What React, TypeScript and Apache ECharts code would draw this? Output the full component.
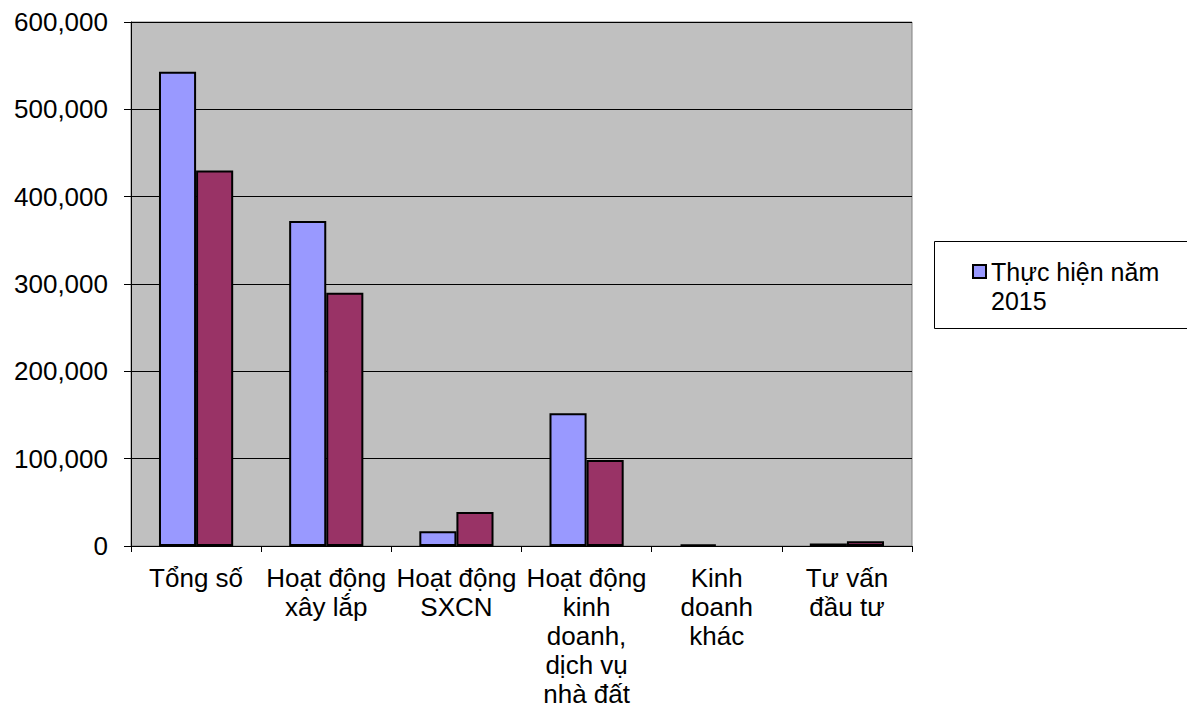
import React, { useEffect, useRef } from "react";
import * as echarts from "echarts";

const categories = [
  "Tổng số",
  "Hoạt động\nxây lắp",
  "Hoạt động\nSXCN",
  "Hoạt động\nkinh\ndoanh,\ndịch vụ\nnhà đất",
  "Kinh\ndoanh\nkhác",
  "Tư vấn\nđầu tư",
];
const series1Name = "Thực hiện năm 2015";
const series1 = [543000, 372000, 17000, 152000, 2000, 3000];
const series2Name = "Series 2";
const series2 = [430000, 290000, 39000, 98500, null, 5500];
const yTicks = { min: 0, max: 600000, interval: 100000 };

const FONT = "'Liberation Sans', Arial, sans-serif";
const FS = 26;

export default function App() {
  const ref = useRef<HTMLDivElement>(null);
  useEffect(() => {
    if (!ref.current) return;
    const chart = echarts.init(ref.current, null, { renderer: "svg" });
    chart.setOption({
      animation: false,
      backgroundColor: "#ffffff",
      textStyle: { fontFamily: FONT },
      graphic: [
        {
          type: "rect",
          left: 934,
          top: 241,
          shape: { width: 270, height: 87 },
          style: { fill: "#ffffff", stroke: "#000000", lineWidth: 1 },
          z: 0,
        },
      ],
      legend: {
        data: [series1Name],
        left: 972,
        top: 228,
        padding: 0,
        itemWidth: 13,
        itemHeight: 13,
        icon: "rect",
        z: 10,
        itemStyle: { borderColor: "#000000", borderWidth: 2 },
        formatter: () => "\nThực hiện năm\n2015",
        textStyle: {
          fontFamily: FONT,
          fontSize: 25,
          color: "#000000",
          lineHeight: 29,
        },
      },
      grid: {
        left: 131,
        right: 275,
        top: 22,
        bottom: 170,
        show: true,
        backgroundColor: "#C0C0C0",
        borderColor: "#808080",
        borderWidth: 1,
      },
      xAxis: {
        type: "category",
        data: categories,
        axisLine: { lineStyle: { color: "#000000", width: 1 } },
        axisTick: { show: true, length: 6, alignWithLabel: false, lineStyle: { color: "#000000" } },
        axisLabel: {
          interval: 0,
          color: "#000000",
          fontFamily: FONT,
          fontSize: FS,
          lineHeight: 29,
          margin: 17,
          align: "center",
        },
      },
      yAxis: {
        type: "value",
        min: yTicks.min,
        max: yTicks.max,
        interval: yTicks.interval,
        axisLine: { show: true, lineStyle: { color: "#000000", width: 1 } },
        axisTick: { show: true, length: 7, lineStyle: { color: "#000000" } },
        splitLine: { show: true, lineStyle: { color: "#000000", width: 1 } },
        axisLabel: {
          color: "#000000",
          fontFamily: FONT,
          fontSize: FS,
          margin: 23,
          formatter: (v: number) => v.toLocaleString("en-US"),
        },
      },
      series: [
        {
          name: series1Name,
          type: "bar",
          data: series1,
          barGap: "0%",
          barCategoryGap: "43%",
          itemStyle: { color: "#9999FF", borderColor: "#000000", borderWidth: 2 },
        },
        {
          name: series2Name,
          type: "bar",
          data: series2,
          barGap: "0%",
          barCategoryGap: "43%",
          itemStyle: { color: "#993366", borderColor: "#000000", borderWidth: 2 },
        },
      ],
    });
    return () => chart.dispose();
  }, []);
  return (
    <div
      ref={ref}
      style={{ position: "fixed", left: 0, top: 0, width: 1187, height: 716 }}
    />
  );
}
